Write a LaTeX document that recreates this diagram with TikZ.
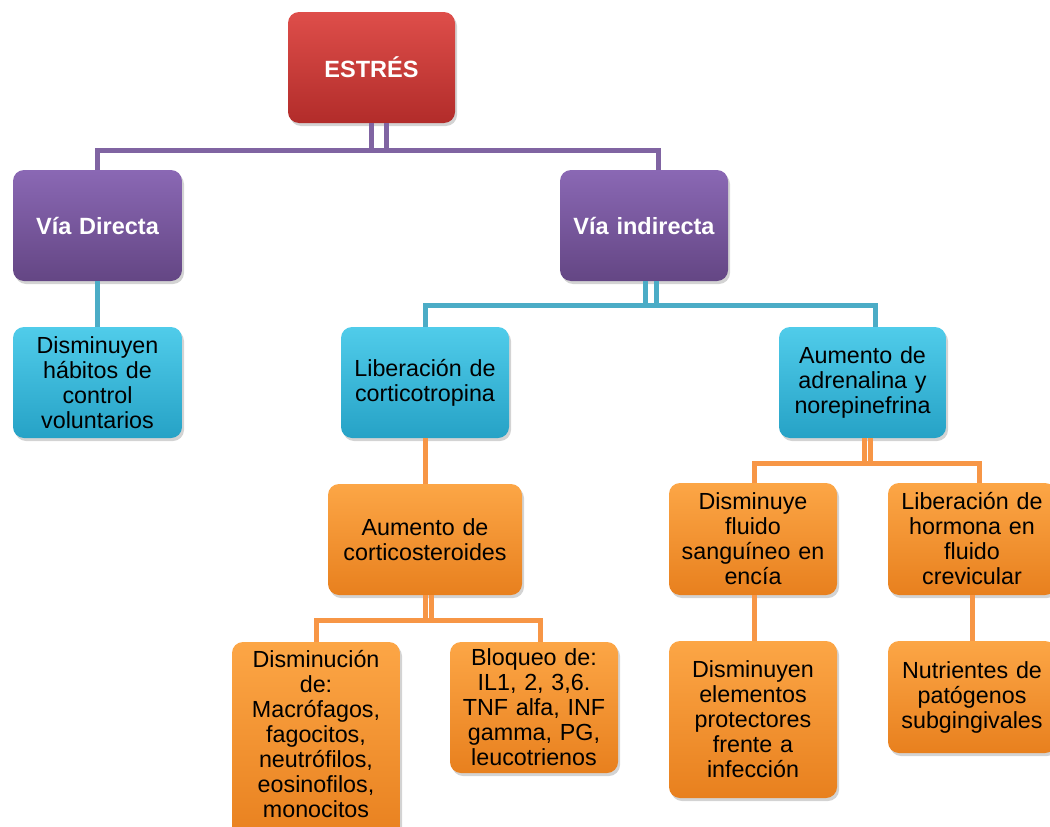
\documentclass[tikz,border=0pt]{standalone}
\usepackage{fontspec}
\setmainfont{Liberation Sans}
\usetikzlibrary{shadows}
\definecolor{redT}{RGB}{222,78,74}
\definecolor{redB}{RGB}{178,44,42}
\definecolor{purT}{RGB}{138,104,180}
\definecolor{purB}{RGB}{100,70,132}
\definecolor{cyaT}{RGB}{80,204,234}
\definecolor{cyaB}{RGB}{38,162,198}
\definecolor{oraT}{RGB}{252,166,70}
\definecolor{oraB}{RGB}{232,128,30}
\definecolor{purL}{RGB}{128,100,162}
\definecolor{cyaL}{RGB}{75,172,198}
\definecolor{oraL}{RGB}{247,150,70}
\begin{document}
\begin{tikzpicture}[x=1pt,y=-1pt,
  box/.style={rounded corners=11pt, minimum width=168pt, minimum height=111pt,
    text width=166pt, align=center, inner sep=0pt,
    font=\fontsize{23.3}{25}\selectfont,
    drop shadow={opacity=0.35, shadow xshift=2pt, shadow yshift=-3pt}},
  redbox/.style={box, top color=redT, bottom color=redB, text=white, font=\fontsize{23.5}{25}\selectfont\bfseries},
  purbox/.style={box, top color=purT, bottom color=purB, text=white, font=\fontsize{23.5}{25}\selectfont\bfseries},
  cyabox/.style={box, top color=cyaT, bottom color=cyaB, text=black},
  orabox/.style={box, top color=oraT, bottom color=oraB, text=black},
  pline/.style={draw=purL, line width=5pt},
  cline/.style={draw=cyaL, line width=5pt},
  oline/.style={draw=oraL, line width=5pt}]
\useasboundingbox (0,0) rectangle (1050,827);

\node[redbox, minimum width=167pt] (estres) at (371.5,67.5) {ESTRÉS};
\node[purbox, minimum width=169pt] (vd) at (97.5,225.5) {Vía Directa};
\node[purbox] (vi) at (644,225.5) {Vía indirecta};
\node[cyabox, minimum width=169pt] (hab) at (97.5,382.5) {Disminuyen\\hábitos de\\control\\voluntarios};
\node[cyabox] (lib) at (425,382.5) {Liberación de\\corticotropina};
\node[cyabox, minimum width=167pt] (adr) at (862.5,382.5) {Aumento de\\adrenalina y\\norepinefrina};
\node[orabox, minimum width=194pt] (cort) at (425,539.5) {Aumento de\\corticosteroides};
\node[orabox, minimum height=200pt] (dis) at (316,742) {Disminución\\de:\\Macrófagos,\\fagocitos,\\neutrófilos,\\eosinofilos,\\monocitos\\[-9pt]\mbox{}};
\node[orabox, minimum height=131pt] (blo) at (534,707.5) {Bloqueo de:\\IL1, 2, 3,6.\\TNF alfa, INF\\gamma, PG,\\leucotrienos};
\node[orabox, minimum height=112pt] (flu) at (753,539) {Disminuye\\fluido\\sanguíneo en\\encía};
\node[orabox, minimum height=112pt] (hor) at (972,539) {Liberación de\\hormona en\\fluido\\crevicular};
\node[orabox, minimum height=157pt] (ele) at (753,719.5) {Disminuyen\\elementos\\protectores\\frente a\\infección};
\node[orabox, minimum height=112pt] (nut) at (972,697) {Nutrientes de\\patógenos\\subgingivales};

\draw[pline] (estres.south) -- ++(0,27) -| (vd.north);
\draw[pline] ([xshift=15pt]estres.south) -- ++(0,27) -- ++(-17,0) -| ([xshift=14pt]vi.north);
\draw[cline] (vd.south) -- (hab.north);
\draw[cline] ([xshift=1pt]vi.south) -- ++(0,24) -| (lib.north);
\draw[cline] ([xshift=12pt]vi.south) -- ++(0,24) -- ++(-13,0) -| ([xshift=12.5pt]adr.north);
\draw[oline] (lib.south) -- (cort.north);
\draw[oline] (cort.south) -- ++(0,25.5) -| (dis.north);
\draw[oline] ([xshift=6pt]cort.south) -- ++(0,25.5) -- ++(-8,0) -| ([xshift=6.5pt]blo.north);
\draw[oline] ([xshift=1.5pt]adr.south) -- ++(0,25) -| ([xshift=1.5pt]flu.north);
\draw[oline] ([xshift=7.5pt]adr.south) -- ++(0,25) -- ++(-8,0) -| ([xshift=7pt]hor.north);
\draw[oline] ([xshift=1.5pt]flu.south) -- ([xshift=1.5pt]ele.north);
\draw[oline] (hor.south) -- (nut.north);
\end{tikzpicture}
\end{document}
